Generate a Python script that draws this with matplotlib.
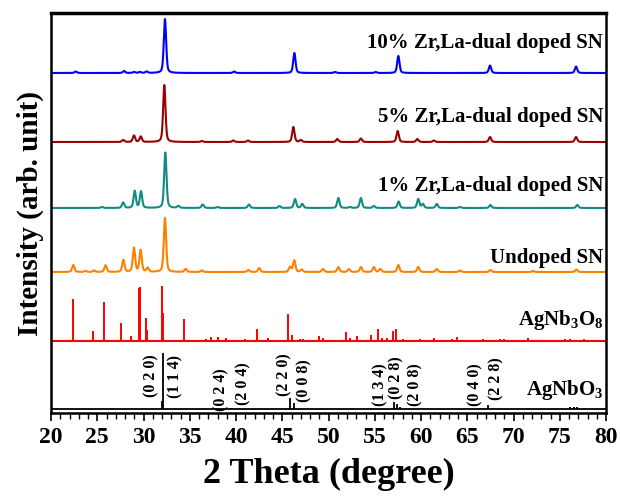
import numpy as np
import matplotlib
matplotlib.use("Agg")
import matplotlib.pyplot as plt

plt.rcParams['font.family'] = 'Liberation Serif'
plt.rcParams['font.weight'] = 'bold'
plt.rcParams['mathtext.fontset'] = 'custom'
plt.rcParams['mathtext.rm'] = 'Liberation Serif:bold'
plt.rcParams['mathtext.bf'] = 'Liberation Serif:bold'

# measured XRD peaks: position (2theta) and height (arb.)
zr10_pos = [22.67, 27.9, 28.97, 29.6, 30.34, 32.32, 39.8, 46.31, 50.7, 55.1, 57.55, 67.46, 76.76]
zr10_h = [1.5, 2, 1, 1, 1.5, 54, 1.5, 20, 1, 1, 17, 7.5, 6.5]

zr5_pos = [27.8, 28.97, 29.7, 32.25, 36.3, 39.7, 41.3, 46.2, 47.0, 50.95, 53.5, 57.48, 59.6, 61.4, 67.46, 76.76]
zr5_h = [2, 6.5, 5.5, 57, 1, 1.5, 1.5, 15, 2, 3, 3.5, 11, 3, 1.5, 5, 5]

zr1_pos = [25.5, 27.8, 29.05, 29.73, 32.36, 33.77, 36.4, 38.0, 41.4, 44.7, 46.38, 47.17,
           51.06, 52.3, 53.5, 54.9, 57.58, 59.7, 60.2, 61.7, 64.2, 67.5, 76.9]
zr1_h = [1, 5.5, 17, 16.5, 55.5, 2, 3.5, 1, 3.5, 2, 9, 4,
         10, 1, 10, 2, 6.5, 9, 4, 4, 1, 3, 3]

undoped_pos = [22.41, 23.7, 24.65, 25.9, 27.82, 28.97, 29.69, 30.45, 32.32, 34.56, 36.3, 41.33,
               42.5, 45.84, 46.3, 47.1, 49.4, 51.06, 52.2, 53.5, 54.9, 55.6, 57.55, 59.7,
               61.7, 64.2, 67.5, 72.1, 76.8]
undoped_h = [7, 1, 1.5, 6.7, 12, 24, 21.7, 4, 54, 3, 1.5, 2,
             4, 5, 11.5, 2.5, 3, 5, 3, 5, 5, 3, 7, 5,
             3, 1.5, 2, 1, 2.5]

# reference cards (stick patterns)
agnb3o8_pos = [22.35, 24.54, 25.73, 26.6, 27.53, 28.65, 29.5, 29.62, 30.27, 30.42, 31.97, 32.1,
               34.38, 36.8, 37.33, 38.09, 38.92, 40.97, 42.3, 43.5, 45.6, 46.1, 46.9, 47.2,
               49.0, 49.45, 51.9, 52.3, 53.1, 54.56, 55.4, 55.8, 56.3, 57.0, 57.3, 58.0,
               59.9, 61.4, 63.4, 63.9, 66.7, 68.5, 69.0, 71.6, 75.6, 76.1, 77.6]
agnb3o8_h = [42, 10, 39, 1, 18, 5, 53, 54, 23, 11, 55, 28,
             22, 2, 4, 4, 3, 2, 12, 3, 27, 6, 2, 2,
             5, 3, 9, 3, 5, 6, 12, 3, 3, 10, 12, 2,
             2, 3, 2, 4, 2, 2, 2, 3, 2, 2, 2]

agnbo3_pos = [31.95, 32.1, 39.4, 39.6, 45.84, 46.3, 54.56, 57.08, 57.4, 57.7, 66.4, 67.25, 76.1, 76.5, 76.9]
agnbo3_h = [8, 56, 1, 1, 11, 6, 1, 7, 5, 2, 1, 4, 2, 2, 2]

hkl_labels = ['(0 2 0)', '(1 1 4)', '(0 2 4)', '(2 0 4)', '(2 2 0)', '(0 0 8)',
              '(1 3 4)', '(0 2 8)', '(2 0 8)', '(0 4 0)', '(2 2 8)']
hkl_x = [30.89, 33.4, 38.45, 40.8, 45.2, 47.35, 55.57, 57.37, 59.42, 65.84, 68.18]
hkl_y = [37.5, 37, 23.5, 29, 38.5, 32, 28.5, 35.5, 28, 28, 34.5]

sample_names = ['10% Zr,La-dual doped SN', '5% Zr,La-dual doped SN',
                '1% Zr,La-dual doped SN', 'Undoped SN']


def pattern(x, pos, h, w=0.3):
    y = np.zeros_like(x)
    for p, a in zip(pos, h):
        g = np.exp(-4 * np.log(2) * ((x - p) / w) ** 2)
        l = 1 / (1 + 4 * ((x - p) / w) ** 2)
        y += a * (0.6 * g + 0.4 * l)
    return y


x = np.linspace(20, 80, 4001)

fig = plt.figure(figsize=(6.2, 4.96), dpi=100)
ax = fig.add_axes([51 / 620, 83 / 496, 555 / 620, 400 / 496])

traces = [(zr10_pos, zr10_h, 340, '#0000FF'),
          (zr5_pos, zr5_h, 271, '#990000'),
          (zr1_pos, zr1_h, 205, '#138A84'),
          (undoped_pos, undoped_h, 141, '#FF8000')]
label_y = [370, 296, 227, 155]
for (pos, h, off, c), name, ly in zip(traces, sample_names, label_y):
    ax.plot(x, pattern(x, pos, h) + off, color=c, lw=1.5)
    ax.text(79.7, ly, name, ha='right', va='center', fontsize=15, fontweight='bold')

# AgNb3O8 sticks
ax.vlines(agnb3o8_pos, 72, 72 + np.array(agnb3o8_h), color='#FF0000', lw=1.4)
ax.axhline(72, color='#FF0000', lw=1.5)
ax.text(79.7, 93, r'AgNb$_3$O$_8$', ha='right', va='center', fontsize=15)

# AgNbO3 sticks
ax.vlines(agnbo3_pos, 4, 4 + np.array(agnbo3_h), color='black', lw=1.3)
ax.axhline(4, color='black', lw=1.3)
ax.text(79.7, 23, r'AgNbO$_3$', ha='right', va='center', fontsize=15)
for t, hx, hy in zip(hkl_labels, hkl_x, hkl_y):
    ax.text(hx, hy, t, rotation=90, ha='center', va='center', fontsize=11.5)

ax.set_xlim(20, 80)
ax.set_ylim(0, 400)
ax.set_xticks(np.arange(20, 81, 5))
ax.set_xticks(np.arange(20, 81, 1), minor=True)
ax.set_yticks([])
ax.tick_params(axis='x', which='major', direction='out', length=6, width=1.2, labelsize=17, pad=4)
ax.tick_params(axis='x', which='minor', direction='out', length=4, width=1.0)
for lab in ax.get_xticklabels():
    lab.set_fontweight('bold')
for s in ax.spines.values():
    s.set_linewidth(1.8)
ax.spines['top'].set_linewidth(2.5)

ax.set_xlabel('2 Theta (degree)', fontsize=26, fontweight='bold', labelpad=7)
ax.set_ylabel('Intensity (arb. unit)', fontsize=21, fontweight='bold', labelpad=5)

fig.savefig('out.png', dpi=100)
